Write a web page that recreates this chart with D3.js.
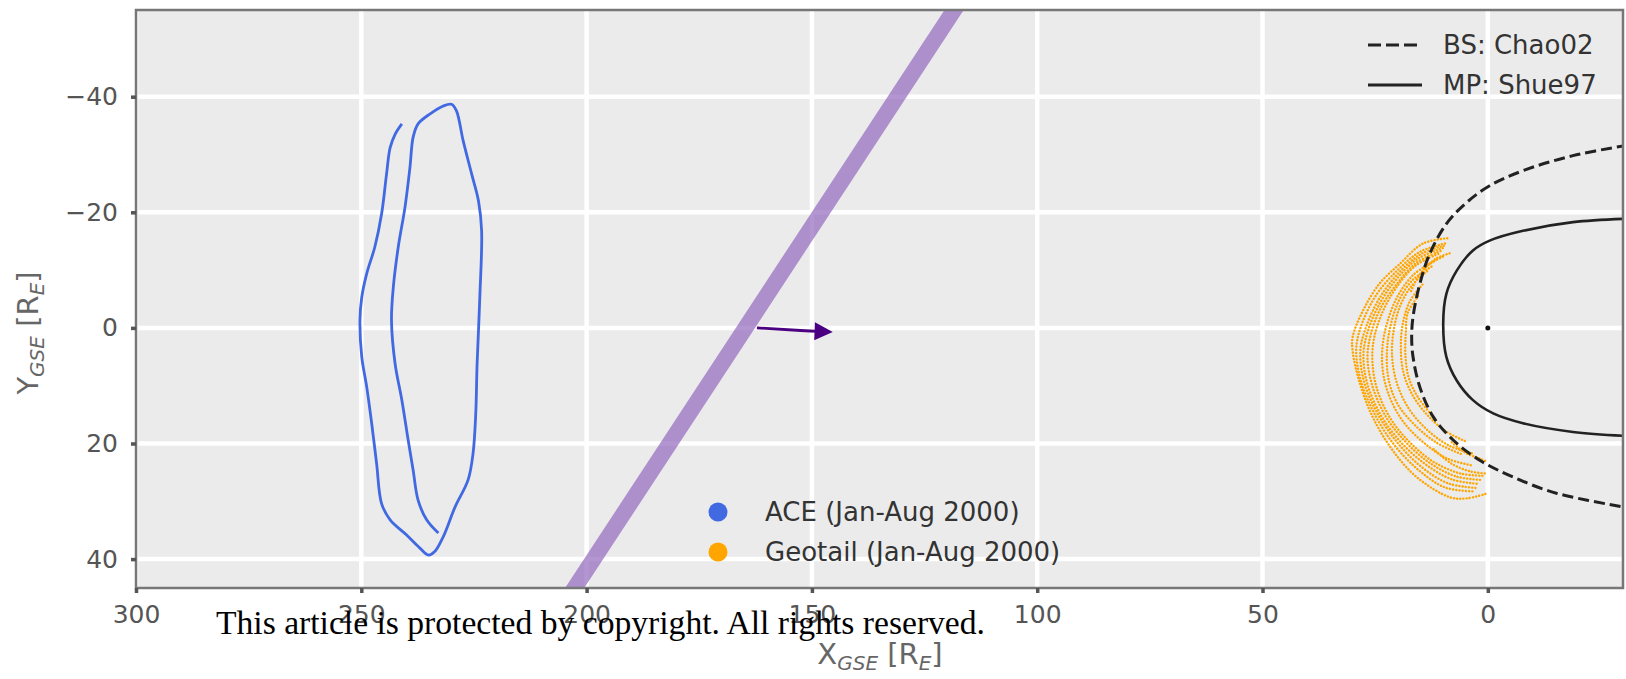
<!DOCTYPE html>
<html>
<head>
<meta charset="utf-8">
<script src="https://cdn.jsdelivr.net/npm/d3@7"></script>
<style>
  body { margin: 0; background: #fff; }
</style>
</head>
<body>
<svg id="chart" width="1626" height="679" font-family="DejaVu Sans, sans-serif"></svg>
<script>
// ticks
var xTicks = [300, 250, 200, 150, 100, 50, 0];
var yTicks = [-40, -20, 0, 20, 40];

// ACE track, [X_GSE, Y_GSE] in R_E
var aceOrbit = [
  [241.0, -35.3], [242.5, -33.5], [243.6, -31.2], [244.4, -26.6], [245.5, -19.7],
  [247.0, -14.0], [248.8, -9.4], [249.9, -5.3], [250.3, -1.3], [249.9, 5.0],
  [248.8, 10.2], [247.7, 16.5], [246.6, 23.5], [245.5, 30.4], [243.6, 33.2],
  [240.0, 35.8], [237.0, 38.1], [235.1, 39.3], [233.7, 38.7], [231.8, 36.1],
  [229.2, 31.0], [226.3, 26.3], [225.2, 21.7], [224.6, 14.8], [224.3, 6.2],
  [223.7, -5.3], [223.3, -16.8], [224.0, -22.0], [225.5, -26.6], [227.4, -32.4],
  [228.9, -37.6], [230.0, -38.7], [231.8, -38.4], [234.8, -37.0], [237.4, -35.3],
  [238.5, -33.0], [239.2, -27.8], [240.3, -20.9], [241.8, -14.0], [242.9, -7.0],
  [243.3, -1.3], [242.5, 6.2], [241.0, 12.5], [239.6, 19.4], [238.5, 24.6],
  [237.4, 29.8], [235.5, 33.2], [232.9, 35.5]
];

// Geotail passes (dotted)
var geotailTracks = [
  [[9, -15.5], [14.4, -14.6], [19.5, -11.1], [24, -7.7], [27.7, -3], [30, 1.6], [30, 4], [28.4, 9.6], [25.5, 15.5], [21.1, 21.2], [15.8, 25.8], [8.4, 29.3], [4.7, 29.5], [0, 28.6]],
  [[9.5, -14.6], [15, -13.2], [20, -10], [24.5, -6], [27.8, -1], [29.2, 3.5], [28.3, 8.8], [25.2, 14.8], [20.8, 20.2], [15.5, 24.5], [9.5, 27.6], [3, 28.3]],
  [[9.8, -14.2], [14.8, -12.8], [19.8, -9.5], [24, -5.2], [27, -0.2], [28.3, 4], [27.5, 9.2], [24.5, 14.8], [20, 19.9], [14.8, 24], [8.8, 26.9], [2.5, 27.7]],
  [[10, -13.8], [15.5, -12], [20.3, -8.4], [24, -4.2], [26.6, 0.5], [27.6, 4.5], [26.8, 9.5], [23.8, 15], [19.5, 19.6], [14, 23.5], [8, 26.2], [2, 27]],
  [[10.5, -13.3], [15.8, -11.3], [20.2, -7.6], [23.8, -3.4], [26, 1.2], [26.7, 5.2], [25.6, 10.1], [22.6, 15.4], [18.4, 19.6], [13, 23.3], [7, 25.7], [1.5, 26.3]],
  [[11, -12.8], [16, -10.8], [20.3, -7], [23.5, -2.5], [25.3, 2], [25.6, 6], [24.5, 10.8], [21.5, 15.8], [17.3, 19.8], [12, 23.2], [6, 25.2], [1, 25.6]],
  [[12, -11.5], [16.5, -9.2], [20, -5.5], [22.3, -1], [23.4, 3.5], [23.2, 8], [21.5, 12.5], [18.5, 16.5], [14, 20], [9, 22.6], [3.5, 23.8]],
  [[12.5, -10.6], [16.8, -8.2], [19.8, -4.6], [21.7, 0], [22.4, 4.5], [22, 9], [20, 13.2], [16.2, 16.8], [11.5, 19.8], [6, 21.8]],
  [[13.5, -9.8], [17, -7.2], [19.6, -3.5], [21, 1], [21.2, 5.5], [20, 10], [17.5, 14], [13.5, 17.6], [8.5, 20.4], [3, 21.8]],
  [[14.5, -7.5], [17.3, -4.6], [18.8, -1], [19.3, 3], [18.8, 7.5], [16.8, 11.5], [13.5, 15], [9.5, 17.8], [5, 19.6]],
  [[15.5, -5.5], [17.8, -2.5], [18.2, 1], [18.3, 4.5], [17.6, 8.5], [15.5, 12], [12, 15.5]],
  [[10, -12.3], [13, -11], [15.5, -8.8], [17.2, -6]],
  [[8.5, -12.9], [11.5, -12], [14, -10.3]],
  [[8, 19.8], [5, 21.6], [1.5, 22.7], [0, 23.2]],
  [[12, 21], [8, 23.5], [4, 24.8], [0.5, 25.2]]
];

// model boundaries
var bowShock = [
  [-31, -31.6], [-18.9, -29.8], [-7.8, -27.2], [-0.4, -24.6], [4.7, -21.7], [9.2, -18.0],
  [12.9, -12.8], [15.1, -7.6], [16.6, -1.9], [16.9, 1.5], [16.6, 5.0], [15.1, 10.2],
  [12.1, 15.4], [7.7, 19.4], [1.8, 22.9], [-5.6, 25.8], [-15.2, 28.6], [-31, 31.1]
];
var magnetopause = [
  [-31, -18.9], [-18.9, -18.3], [-7.8, -16.8], [-0.4, -15.1], [3.3, -13.4], [6.9, -9.9],
  [9.2, -5.9], [9.9, -0.7], [9.2, 5.0], [6.9, 9.1], [3.3, 12.5], [-1.2, 14.8],
  [-7.8, 16.5], [-18.9, 18.0], [-31, 18.7]
];

// solar wind phase front and its normal
var phaseFront = [[203.5, 46], [117.6, -56]];
var frontArrow = [[162.2, 0.0], [152.5, 0.45], [148.6, 0.6]];
var earth = [[0, 0]];

var lineLegend = ["BS: Chao02", "MP: Shue97"];
var dotLegend = ["ACE (Jan-Aug 2000)", "Geotail (Jan-Aug 2000)"];
var dotColors = ["#4169e1", "#ffa500"];

var W = 1626, H = 679;
var m = { left: 136, right: 1623, top: 10, bottom: 588 };

var svg = d3.select("#chart");

var x = d3.scaleLinear().domain([300, -30]).range([m.left, m.right]);
var y = d3.scaleLinear().domain([-55, 45]).range([m.top, m.bottom]);

svg.append("rect").attr("width", W).attr("height", H).attr("fill", "#fff");

svg.append("clipPath").attr("id", "plotclip")
  .append("rect")
  .attr("x", m.left).attr("y", m.top)
  .attr("width", m.right - m.left).attr("height", m.bottom - m.top);

svg.append("rect")
  .attr("x", m.left).attr("y", m.top)
  .attr("width", m.right - m.left).attr("height", m.bottom - m.top)
  .attr("fill", "#ebebeb");

var plot = svg.append("g").attr("clip-path", "url(#plotclip)");

// grid
plot.selectAll(".gx").data(xTicks).enter().append("line")
  .attr("x1", function(d){ return x(d); }).attr("x2", function(d){ return x(d); })
  .attr("y1", m.top).attr("y2", m.bottom)
  .attr("stroke", "#fff").attr("stroke-width", 4.5);
plot.selectAll(".gy").data(yTicks).enter().append("line")
  .attr("x1", m.left).attr("x2", m.right)
  .attr("y1", function(d){ return y(d); }).attr("y2", function(d){ return y(d); })
  .attr("stroke", "#fff").attr("stroke-width", 4.5);

var line = d3.line().x(function(d){ return x(d[0]); }).y(function(d){ return y(d[1]); });
var smooth = d3.line().x(function(d){ return x(d[0]); }).y(function(d){ return y(d[1]); })
  .curve(d3.curveCatmullRom.alpha(0.5));

// phase front band
plot.append("path").datum(phaseFront)
  .attr("d", line)
  .attr("stroke", "#8f63bd").attr("stroke-opacity", 0.68)
  .attr("stroke-width", 16).attr("fill", "none");

// ACE
plot.append("path").datum(aceOrbit)
  .attr("d", smooth)
  .attr("fill", "none").attr("stroke", dotColors[0])
  .attr("stroke-width", 2.8).attr("stroke-linejoin", "round");

// Geotail
plot.selectAll(".geo").data(geotailTracks).enter().append("path")
  .attr("d", smooth)
  .attr("fill", "none").attr("stroke", dotColors[1])
  .attr("stroke-width", 2.4).attr("stroke-linecap", "round")
  .attr("stroke-dasharray", "0.1 3.1");

// boundaries
plot.append("path").datum(bowShock)
  .attr("d", smooth)
  .attr("fill", "none").attr("stroke", "#222")
  .attr("stroke-width", 3).attr("stroke-dasharray", "11 5");
plot.append("path").datum(magnetopause)
  .attr("d", smooth)
  .attr("fill", "none").attr("stroke", "#222").attr("stroke-width", 2.6);

plot.selectAll(".earth").data(earth).enter().append("circle")
  .attr("cx", function(d){ return x(d[0]); }).attr("cy", function(d){ return y(d[1]); })
  .attr("r", 2.5).attr("fill", "#111");

// arrow
svg.append("defs").append("marker")
  .attr("id", "head").attr("viewBox", "0 0 10 10")
  .attr("refX", 2).attr("refY", 5)
  .attr("markerWidth", 8).attr("markerHeight", 6.5)
  .attr("markerUnits", "strokeWidth")
  .attr("orient", "auto")
  .append("path").attr("d", "M0,0 L10,5 L0,10 Z").attr("fill", "#4b0082");
plot.append("path").datum(frontArrow)
  .attr("d", d3.line().x(function(d){ return x(d[0]); }).y(function(d){ return y(d[1]); }).curve(d3.curveNatural))
  .attr("fill", "none").attr("stroke", "#4b0082").attr("stroke-width", 2.8)
  .attr("marker-end", "url(#head)");

// legend, line styles
var lg = svg.append("g").attr("transform", "translate(1368,45)");
lineLegend.forEach(function(t, i){
  lg.append("line").attr("x1", 0).attr("x2", 54).attr("y1", i * 40).attr("y2", i * 40)
    .attr("stroke", "#222").attr("stroke-width", 3)
    .attr("stroke-dasharray", i === 0 ? "13 5" : null);
  lg.append("text").attr("x", 75).attr("y", i * 40).attr("dy", "0.36em")
    .attr("font-size", 26).attr("fill", "#333").text(t);
});

// legend, markers
var dg = svg.append("g").attr("transform", "translate(718,512)");
dotLegend.forEach(function(t, i){
  dg.append("circle").attr("cx", 0).attr("cy", i * 40).attr("r", 9.5).attr("fill", dotColors[i]);
  dg.append("text").attr("x", 47).attr("y", i * 40).attr("dy", "0.36em")
    .attr("font-size", 26).attr("fill", "#333").text(t);
});

// spines
svg.append("rect")
  .attr("x", m.left).attr("y", m.top)
  .attr("width", m.right - m.left).attr("height", m.bottom - m.top)
  .attr("fill", "none").attr("stroke", "#777").attr("stroke-width", 2.5);

// axes
var xAxis = svg.append("g").attr("transform", "translate(0," + m.bottom + ")")
  .call(d3.axisBottom(x).tickValues(xTicks).tickSize(5).tickPadding(12));
var yAxis = svg.append("g").attr("transform", "translate(" + m.left + ",0)")
  .call(d3.axisLeft(y).tickValues(yTicks).tickSize(5).tickPadding(13));
[xAxis, yAxis].forEach(function(a){
  a.attr("font-family", "DejaVu Sans, sans-serif").attr("font-size", 25);
  a.select(".domain").remove();
  a.selectAll("line").attr("stroke", "#555").attr("stroke-width", 3.5);
  a.selectAll("text").attr("fill", "#555");
});

// axis titles
var xl = svg.append("text").attr("x", 880).attr("y", 664)
  .attr("text-anchor", "middle").attr("font-size", 29).attr("fill", "#666");
xl.append("tspan").text("X");
xl.append("tspan").attr("dy", 6).attr("font-size", 20).attr("font-style", "italic").text("GSE");
xl.append("tspan").attr("dy", -6).text(" [R");
xl.append("tspan").attr("dy", 6).attr("font-size", 20).attr("font-style", "italic").text("E");
xl.append("tspan").attr("dy", -6).text("]");

var yl = svg.append("text").attr("transform", "translate(38,333) rotate(-90)")
  .attr("text-anchor", "middle").attr("font-size", 29).attr("fill", "#666");
yl.append("tspan").text("Y");
yl.append("tspan").attr("dy", 6).attr("font-size", 20).attr("font-style", "italic").text("GSE");
yl.append("tspan").attr("dy", -6).text(" [R");
yl.append("tspan").attr("dy", 6).attr("font-size", 20).attr("font-style", "italic").text("E");
yl.append("tspan").attr("dy", -6).text("]");

// watermark line
svg.append("text").attr("x", 216).attr("y", 634)
  .style("font-family", "'Liberation Serif', 'DejaVu Serif', serif")
  .attr("font-size", 33).attr("fill", "#000")
  .attr("textLength", 769).attr("lengthAdjust", "spacingAndGlyphs")
  .text("This article is protected by copyright. All rights reserved.");
</script>
</body>
</html>
